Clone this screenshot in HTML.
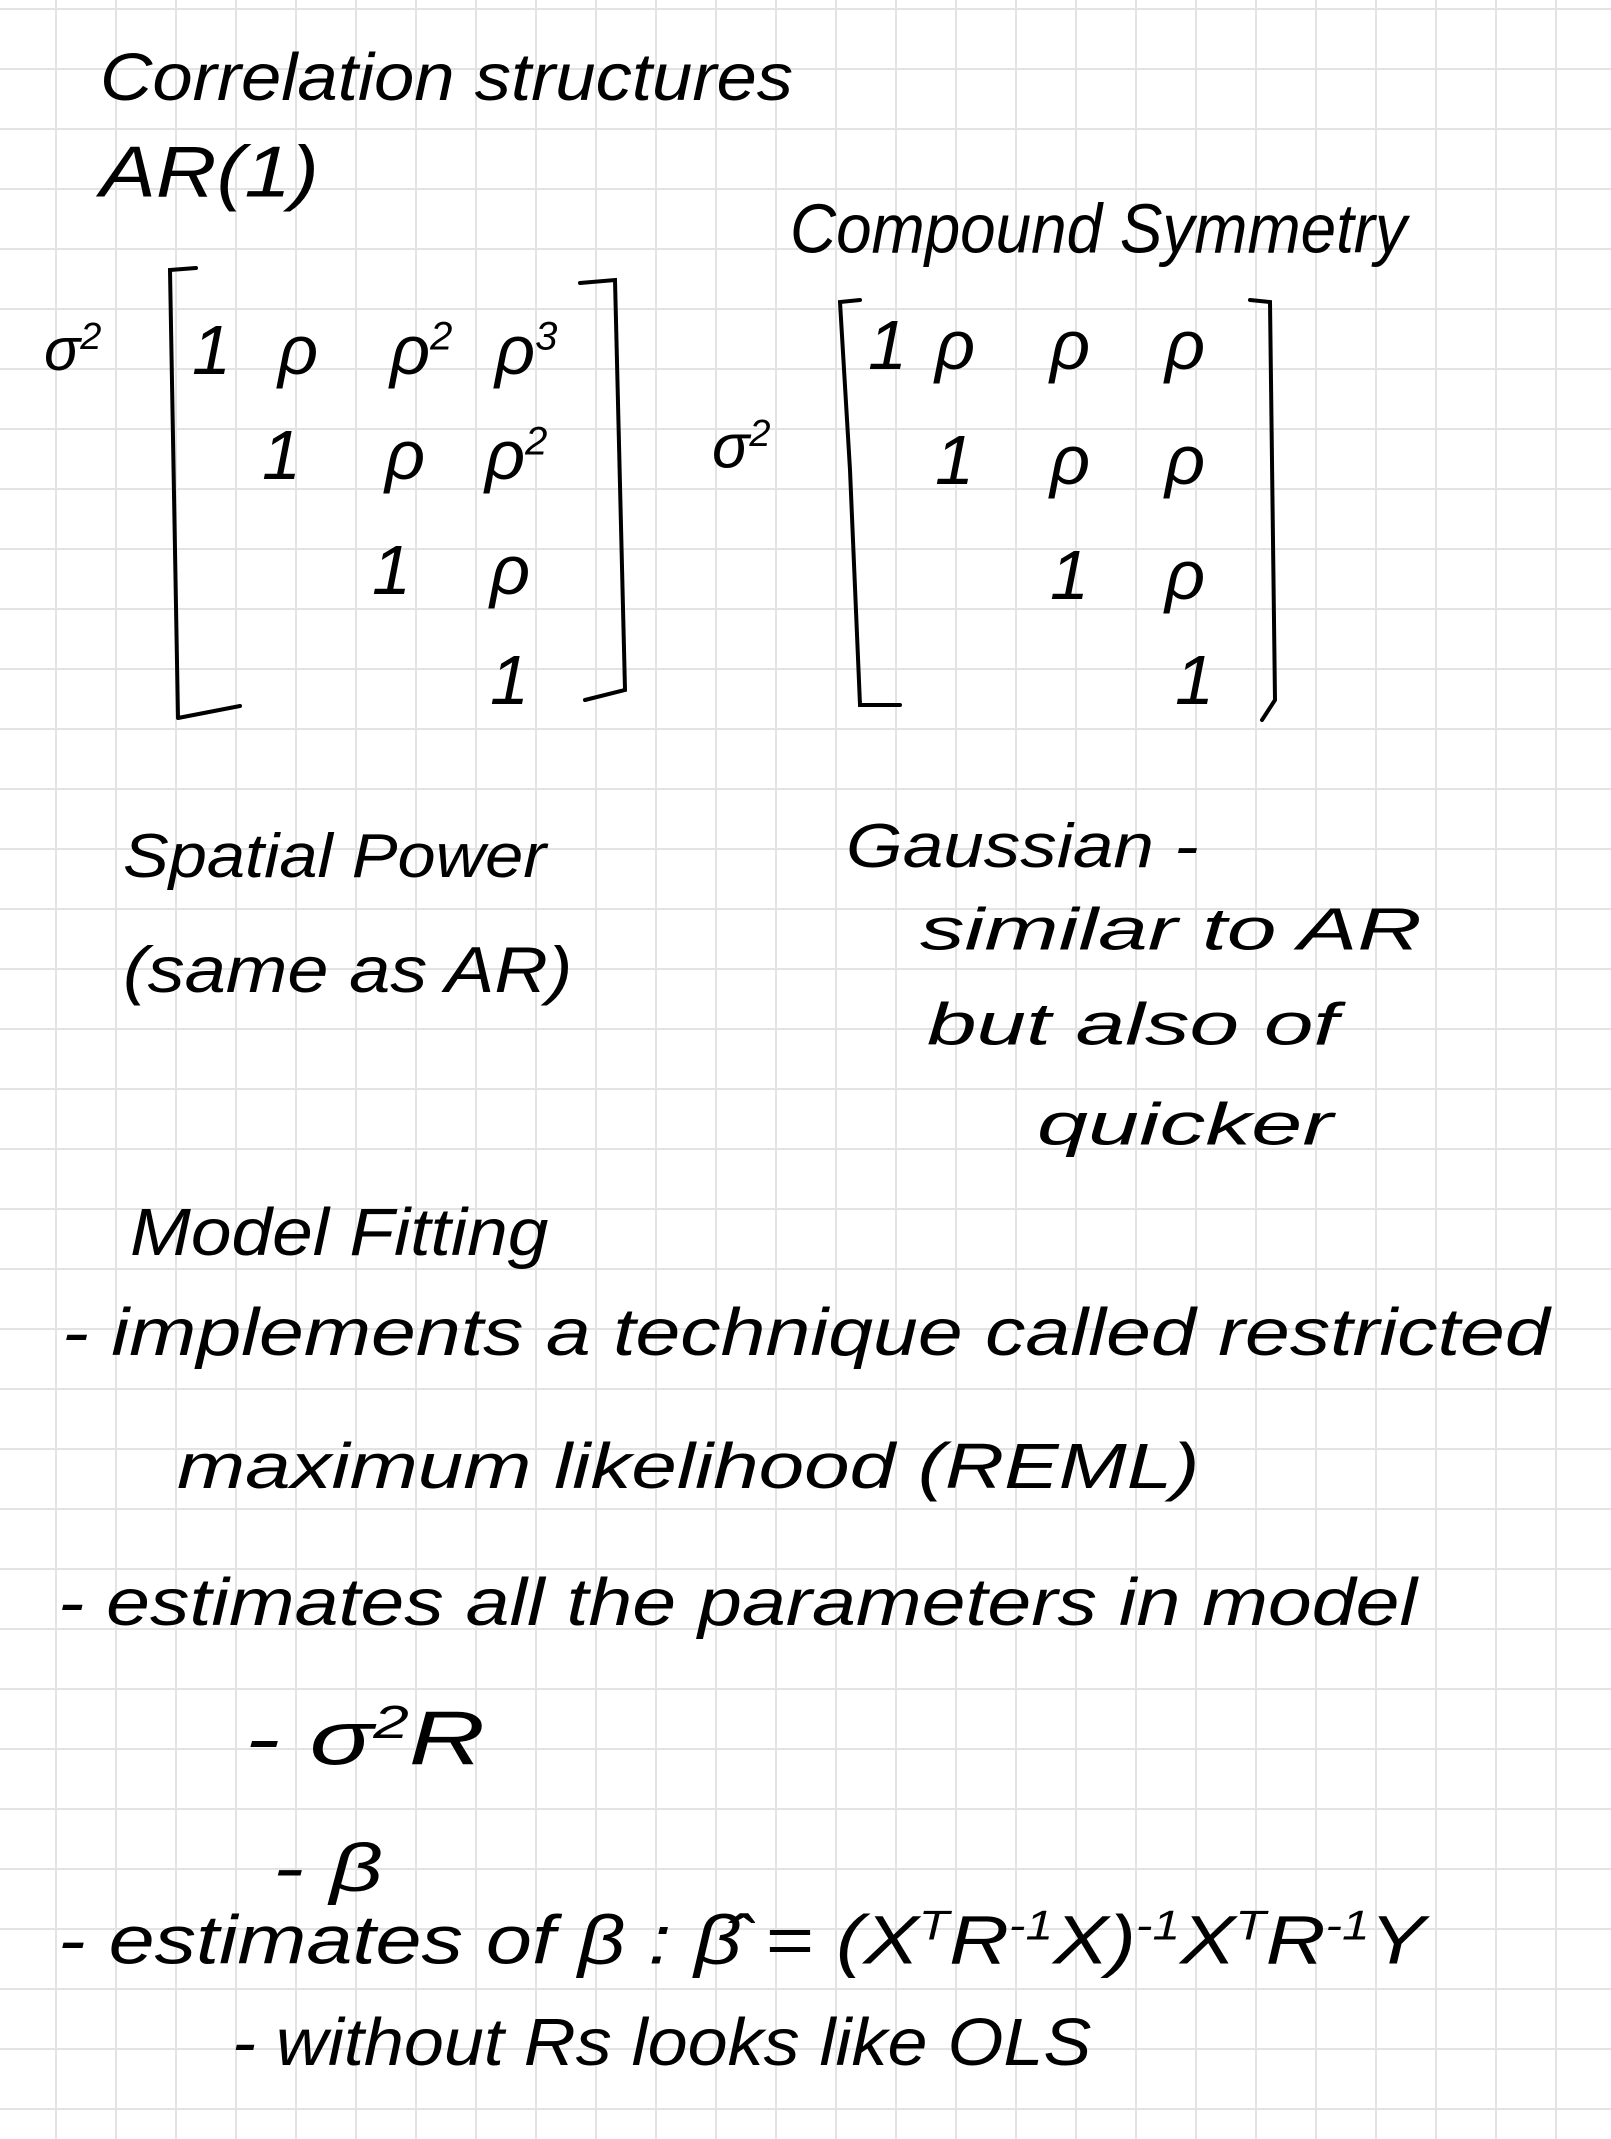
<!DOCTYPE html>
<html><head><meta charset="utf-8"><style>
html,body{margin:0;padding:0}
body{width:1611px;height:2139px;position:relative;overflow:hidden;background-color:#fff;
background-image:linear-gradient(to right,#e3e3e3 2px,transparent 2px),linear-gradient(to bottom,#e3e3e3 2px,transparent 2px);
background-size:60px 60px;background-position:55px 8px;font-family:"Liberation Sans","DejaVu Sans",sans-serif;color:#000}
.t{position:absolute;white-space:nowrap;line-height:1;font-style:italic;font-weight:normal;transform-origin:0 0}
svg{position:absolute;left:0;top:0}
</style></head><body>
<svg width="1611" height="2139" fill="none" stroke="#000" stroke-width="4" stroke-linecap="round">
<path d="M196 268 L170 270 L178 718 M178 718 L240 706"/>
<path d="M580 283 L615 280 L625 690 L585 700"/>
<path d="M860 300 L840 302 L850 470 L860 705 L900 705"/>
<path d="M1250 300 L1270 302 L1275 700 L1262 720"/>
</svg>
<div class="t" style="left:100px;top:45px;font-size:58px;transform:scale(1.25,1.15)">Correlation structures</div>
<div class="t" style="left:100px;top:135px;font-size:66px;transform:scale(1.27,1.1)">AR(1)</div>
<div class="t" style="left:790px;top:195px;font-size:58px;transform:scale(1.1,1.2)">Compound Symmetry</div>

<div class="t" style="left:44px;top:318px;font-size:60px">σ<sup style="font-size:38px">2</sup></div>
<div class="t" style="left:192px;top:315px;font-size:70px">1</div>
<div class="t" style="left:278px;top:315px;font-size:70px">ρ</div>
<div class="t" style="left:390px;top:315px;font-size:70px">ρ<sup style="font-size:40px">2</sup></div>
<div class="t" style="left:495px;top:315px;font-size:70px">ρ<sup style="font-size:40px">3</sup></div>
<div class="t" style="left:262px;top:420px;font-size:70px">1</div>
<div class="t" style="left:385px;top:420px;font-size:70px">ρ</div>
<div class="t" style="left:485px;top:420px;font-size:70px">ρ<sup style="font-size:40px">2</sup></div>
<div class="t" style="left:372px;top:535px;font-size:70px">1</div>
<div class="t" style="left:490px;top:535px;font-size:70px">ρ</div>
<div class="t" style="left:490px;top:645px;font-size:70px">1</div>

<div class="t" style="left:712px;top:415px;font-size:62px">σ<sup style="font-size:38px">2</sup></div>
<div class="t" style="left:868px;top:310px;font-size:70px">1</div>
<div class="t" style="left:935px;top:310px;font-size:70px">ρ</div>
<div class="t" style="left:1050px;top:310px;font-size:70px">ρ</div>
<div class="t" style="left:1165px;top:310px;font-size:70px">ρ</div>
<div class="t" style="left:935px;top:425px;font-size:70px">1</div>
<div class="t" style="left:1050px;top:425px;font-size:70px">ρ</div>
<div class="t" style="left:1165px;top:425px;font-size:70px">ρ</div>
<div class="t" style="left:1050px;top:540px;font-size:70px">1</div>
<div class="t" style="left:1165px;top:540px;font-size:70px">ρ</div>
<div class="t" style="left:1175px;top:645px;font-size:70px">1</div>

<div class="t" style="left:123px;top:825px;font-size:54px;transform:scale(1.27,1.15)">Spatial Power</div>
<div class="t" style="left:123px;top:938px;font-size:54px;transform:scale(1.37,1.2)">(same as AR)</div>
<div class="t" style="left:846px;top:815px;font-size:54px;transform:scale(1.35,1.15)">Gaussian -</div>
<div class="t" style="left:920px;top:900px;font-size:54px;transform:scale(1.65,1.1)">similar to AR</div>
<div class="t" style="left:927px;top:995px;font-size:54px;transform:scale(1.65,1.1)">but also of</div>
<div class="t" style="left:1037px;top:1095px;font-size:54px;transform:scale(1.7,1.1)">quicker</div>

<div class="t" style="left:130px;top:1200px;font-size:58px;transform:scale(1.26,1.15)">Model Fitting</div>
<div class="t" style="left:62px;top:1300px;font-size:58px;transform:scale(1.39,1.15)">- implements a technique called restricted</div>
<div class="t" style="left:177px;top:1435px;font-size:58px;transform:scale(1.41,1.1)">maximum likelihood (REML)</div>
<div class="t" style="left:58px;top:1570px;font-size:58px;transform:scale(1.36,1.15)">- estimates all the parameters in model</div>
<div class="t" style="left:245px;top:1700px;font-size:66px;transform:scale(1.6,1.15)">- σ<sup style="font-size:40px">2</sup>R</div>
<div class="t" style="left:273px;top:1835px;font-size:62px;transform:scale(1.5,1.1)">- β</div>
<div class="t" style="left:58px;top:1905px;font-size:60px;transform:scale(1.38,1.15)">- estimates of β : β̂ = (X<sup style="font-size:36px">T</sup>R<sup style="font-size:36px">-1</sup>X)<sup style="font-size:36px">-1</sup>X<sup style="font-size:36px">T</sup>R<sup style="font-size:36px">-1</sup>Y</div>
<div class="t" style="left:232px;top:2010px;font-size:58px;transform:scale(1.24,1.15)">- without Rs looks like OLS</div>
</body></html>
